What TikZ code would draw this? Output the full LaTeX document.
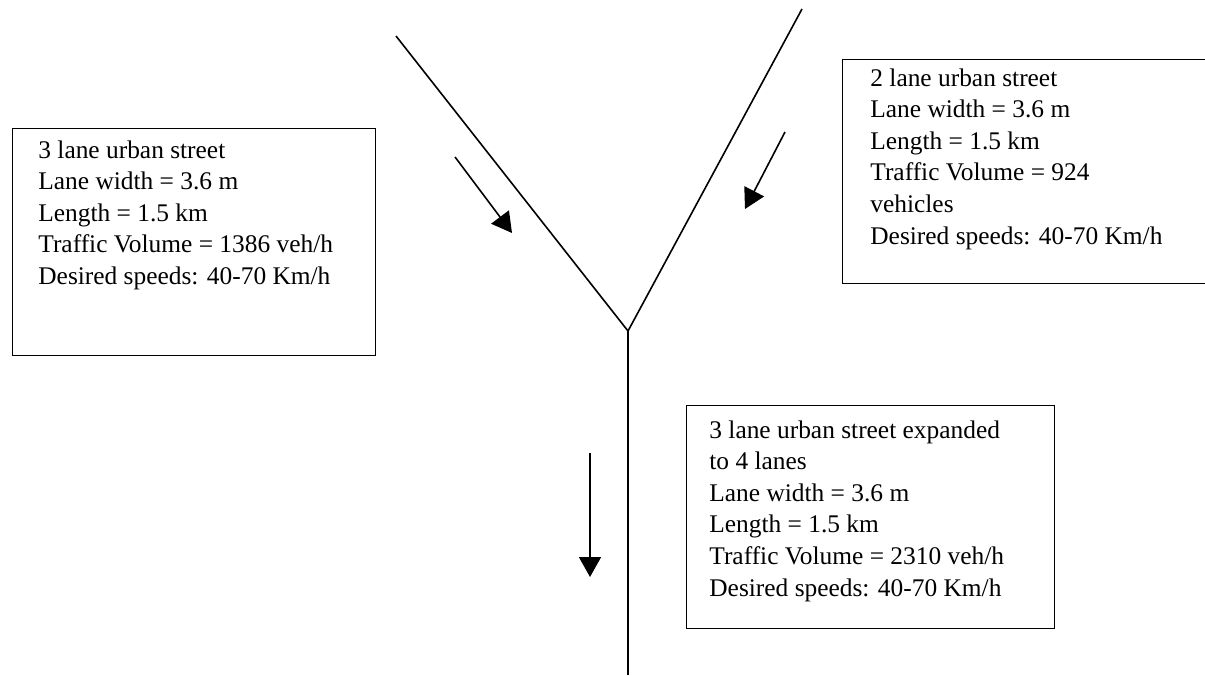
\documentclass[tikz,border=0pt]{standalone}
\usepackage{fontspec}
\setmainfont{Liberation Serif}
\usetikzlibrary{arrows.meta}
\tikzset{
    street/.style = {line width=0.8pt},
    flow/.style = {line width=0.8pt, -{Triangle[width=11pt,length=10pt]}},
    infobox/.style = {draw, line width=0.7pt, anchor=north west, inner sep=0pt},
    infotext/.style = {anchor=north west, align=left, inner sep=0pt,
        font=\fontsize{12.7pt}{15.8pt}\selectfont}
}
\begin{document}
\begin{tikzpicture}[x=0.5pt, y=-0.5pt]
        \useasboundingbox (0,0) rectangle (1205,675);
        % the three streets
        \coordinate (meet) at (628,331);
        \coordinate (leftend) at (396,36);
        \coordinate (rightend) at (802,9);
        \coordinate (stemend) at (628,675);
        \draw[street] (leftend) -- (meet) -- (rightend);
        \draw[street] (meet) -- (stemend);
        % traffic directions
        \coordinate (a1s) at (455,157);  \coordinate (a1e) at (512,233);
        \coordinate (a2s) at (785,132);  \coordinate (a2e) at (745,209);
        \coordinate (a3s) at (590,453);  \coordinate (a3e) at (590,577);
        \draw[flow] (a1s) -- (a1e);
        \draw[flow] (a2s) -- (a2e);
        \draw[flow] (a3s) -- (a3e);
        % boxes
        \node[infobox, minimum width=181.5pt, minimum height=113.5pt] (leftbox) at (12,128) {};
        \node[infobox, minimum width=184pt, minimum height=112pt] (rightbox) at (842,59) {};
        \node[infobox, minimum width=184pt, minimum height=111.5pt] (downbox) at (686,405) {};
        \node[infotext] (lefttext) at (38,140) {3 lane urban street\\Lane width = 3.6 m\\Length = 1.5 km\\Traffic Volume = 1386 veh/h\\Desired speeds: 40-70 Km/h};
        \node[infotext] (righttext) at (870,68) {2 lane urban street\\Lane width = 3.6 m\\Length = 1.5 km\\Traffic Volume = 924\\vehicles\\Desired speeds: 40-70 Km/h};
        \node[infotext] (downtext) at (709,420) {3 lane urban street expanded\\to 4 lanes\\Lane width = 3.6 m\\Length = 1.5 km\\Traffic Volume = 2310 veh/h\\Desired speeds: 40-70 Km/h};
    \end{tikzpicture}
\end{document}
